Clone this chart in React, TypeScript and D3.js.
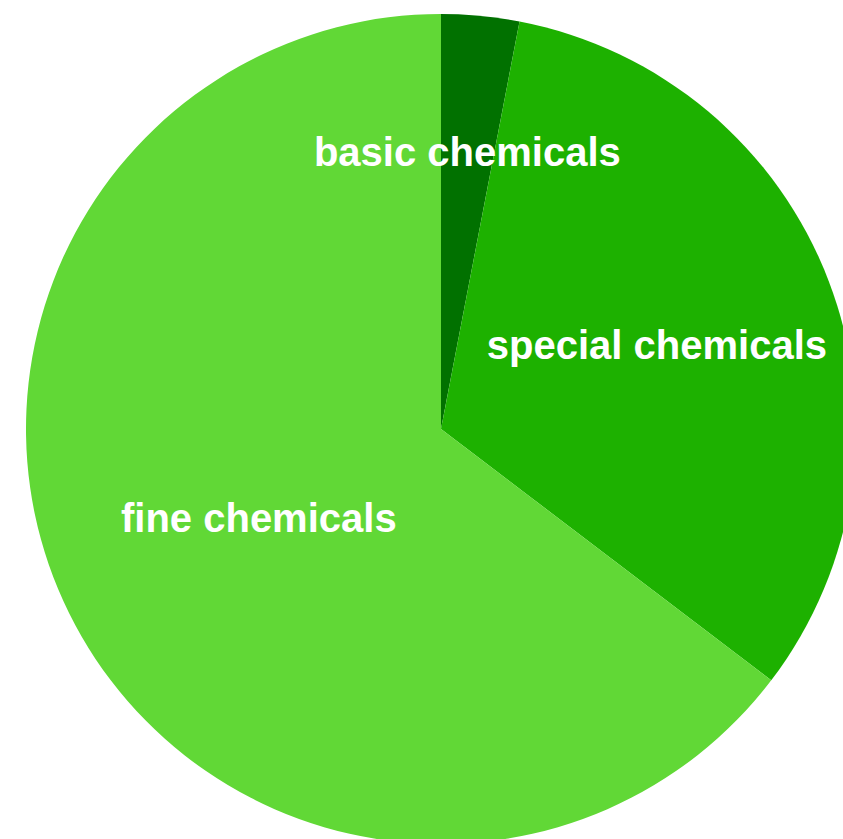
import React from "react";
import * as d3 from "d3";

// Share of each product group
const categories = ["basic chemicals", "special chemicals", "fine chemicals"];
const values = [3, 32, 64];
const colors = ["#017100", "#1DB100", "#61D836"];
// Radial position of each label, as a fraction of the pie radius
const labelRadiusFactors = [0.667, 0.557, 0.49];

const WIDTH = 843;
const HEIGHT = 839;
const CX = 441;
const CY = 429;
const RADIUS = 415;

export default function App() {
  const data = categories.map((name, i) => ({ name, value: values[i], i }));
  const pie = d3
    .pie<{ name: string; value: number; i: number }>()
    .value((d) => d.value)
    .sort(null);
  const arcs = pie(data);
  const arcGen = d3
    .arc<d3.PieArcDatum<{ name: string; value: number; i: number }>>()
    .innerRadius(0)
    .outerRadius(RADIUS);

  return (
    <svg
      width={WIDTH}
      height={HEIGHT}
      style={{ position: "absolute", left: 0, top: 0, display: "block" }}
    >
      <rect width={WIDTH} height={HEIGHT} fill="#ffffff" />
      <g transform={`translate(${CX},${CY})`}>
        {arcs.map((a) => (
          <path key={a.data.name} d={arcGen(a) || ""} fill={colors[a.data.i]} />
        ))}
        {arcs.map((a) => {
          const r = RADIUS * labelRadiusFactors[a.data.i];
          const mid = (a.startAngle + a.endAngle) / 2;
          const x = Math.sin(mid) * r;
          const y = -Math.cos(mid) * r;
          return (
            <text
              key={"l" + a.data.name}
              x={x}
              y={y}
              dy="0.31em"
              textAnchor="middle"
              fill="#ffffff"
              fontFamily="'Liberation Sans', Arial, Helvetica, sans-serif"
              fontWeight="bold"
              fontSize={40}
            >
              {a.data.name}
            </text>
          );
        })}
      </g>
    </svg>
  );
}
